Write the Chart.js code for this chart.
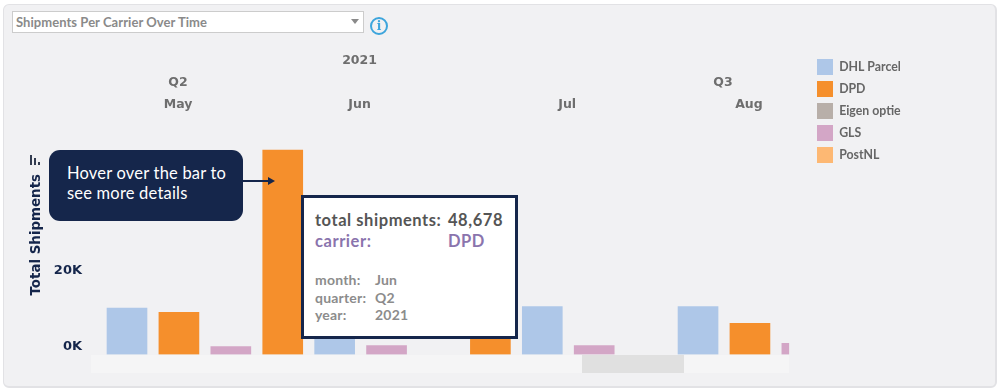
<!DOCTYPE html>
<html><head><meta charset="utf-8">
<script src="https://cdn.jsdelivr.net/npm/chart.js@4"></script>
<style>
html,body{margin:0;padding:0;background:#fff;width:1000px;height:392px;overflow:hidden}
#panel{position:absolute;left:3px;top:4px;width:991px;height:381px;background:#f1f1f3;border:1px solid #e2e2e5;border-bottom-width:2px;border-right-width:2px;border-radius:6px;box-sizing:content-box}
canvas{position:absolute;left:0;top:0}
.abs{position:absolute;white-space:nowrap;font-family:Lato,sans-serif}
#select{left:12px;top:11px;width:350px;height:20px;background:#fff;border:1px solid #ccc;color:#8a8a8a;font-weight:700;font-size:13px;line-height:20px;text-indent:3px;letter-spacing:.05px}
#caret{left:351px;top:19px;width:0;height:0;border-left:4px solid transparent;border-right:4px solid transparent;border-top:5px solid #8a8a8a}
#info{left:370px;top:17px;width:14px;height:14px;border:2px solid #3da5dc;border-radius:50%;color:#3da5dc;font:700 12px/14px "DejaVu Serif",serif;text-align:center}
#track{left:91px;top:355px;width:698px;height:18px;background:#f5f5f6}
#thumb{left:582px;top:355px;width:102px;height:18px;background:#e0e0e0}
#sorter i{position:absolute;background:#333c50;width:2px}
#callout{left:49px;top:150px;width:194px;height:71px;background:#15264b;border-radius:11px;color:#fff;font-size:16.5px;line-height:20px;padding:13px 0 0 18px;box-sizing:border-box;white-space:normal;letter-spacing:.2px}
#line{left:243px;top:180px;width:28px;height:2px;background:#15264b}
#head{left:268px;top:177px;width:0;height:0;border-top:4px solid transparent;border-bottom:4px solid transparent;border-left:7px solid #15264b}
#tip{left:301px;top:195px;width:217px;height:144px;background:#fff;border:3px solid #15264b;box-sizing:border-box}
#tip div{position:absolute;white-space:nowrap;font-family:Lato,sans-serif;font-weight:700}
.big{font-size:16.5px;line-height:20px;letter-spacing:.55px}.small{font-size:14px;line-height:18px;color:#8c8c8c;letter-spacing:.2px}
</style></head>
<body>
<div id="panel"></div>
<canvas id="c" width="1000" height="392"></canvas>
<div class="abs" id="select">Shipments Per Carrier Over Time</div>
<div class="abs" id="caret"></div>
<div class="abs" id="info">i</div>
<div class="abs" id="track"></div>
<div class="abs" id="thumb"></div>
<div class="abs" id="sorter" style="left:29px;top:155px;width:12px;height:10px"><i style="left:1px;top:0;height:10px"></i><i style="left:5px;top:3px;height:7px"></i><i style="left:9px;top:7px;height:3px"></i></div>
<div class="abs" id="callout">Hover over the bar to see more details</div>
<div class="abs" id="line"></div>
<div class="abs" id="head"></div>
<div class="abs" id="tip">
 <div class="big" style="left:11px;top:12px;color:#555">total shipments:</div>
 <div class="big" style="left:144px;top:12px;color:#555">48,678</div>
 <div class="big" style="left:11px;top:33px;color:#8a74ad">carrier:</div>
 <div class="big" style="left:144px;top:33px;color:#8a74ad">DPD</div>
 <div class="small" style="left:11px;top:73px">month:</div><div class="small" style="left:71px;top:73px">Jun</div>
 <div class="small" style="left:11px;top:91px">quarter:</div><div class="small" style="left:71px;top:91px">Q2</div>
 <div class="small" style="left:11px;top:108px">year:</div><div class="small" style="left:71px;top:108px">2021</div>
</div>
<script>
// One slot per bar position along the scrolling x axis
const slots = [0,1,2,3,4,5,6,7,8,9,10,11,12,13];
const dhlParcel  = [11070,null,null,null,11000,null,null,null,11380,null,null,11380,null,null];
const dpd        = [null,10045,null,48678,null,null,null,10000,null,null,null,null,7430,null];
const eigenOptie = [null,null,null,null,null,null,null,null,null,null,null,null,null,null];
const gls        = [null,null,1860,null,null,2095,null,null,null,2095,null,null,null,2665];
const postNL     = [null,null,null,null,null,null,null,null,null,null,null,null,null,null];

const monthLabels = ['May','Jun','Jul','Aug'];
const monthSlots  = [0.983,4.48,8.48,11.98];
const quarterLabels = ['Q2','Q3'];
const quarterSlots  = [0.983,11.48];
const yearLabels = ['2021'];
const yearSlots  = [4.48];
const yTicks = [0,20000];

const toPoints = vals => slots.map((s,i)=>({x:s,y:vals[i]}));
const X_MIN=-0.6936, X_MAX=12.755;
const headerFont={family:'"DejaVu Sans"',size:12.5,weight:'bold'};
function headerAxis(labels,positions,weight){
  return {type:'linear',position:'top',min:X_MIN,max:X_MAX,weight,offset:false,bounds:'data',
    grid:{display:false,drawTicks:false},border:{display:false},
    afterBuildTicks:s=>{s.ticks=positions.map(v=>({value:v}));},
    afterTickToLabelConversion:s=>{s.ticks.forEach((t,i)=>{t.label=labels[i];});},
    afterFit:s=>{s.height=22;},
    ticks:{autoSkip:false,maxRotation:0,minRotation:0,color:'#6e6e6e',font:headerFont,padding:3}};
}
new Chart(document.getElementById('c'),{
  type:'bar',
  data:{datasets:[
    {label:'DHL Parcel',data:toPoints(dhlParcel),backgroundColor:'#aec7e8'},
    {label:'DPD',data:toPoints(dpd),backgroundColor:'#f58f2c'},
    {label:'Eigen optie',data:toPoints(eigenOptie),backgroundColor:'#b8afa9'},
    {label:'GLS',data:toPoints(gls),backgroundColor:'#d3a6c6'},
    {label:'PostNL',data:toPoints(postNL),backgroundColor:'#fdb873'}
  ]},
  options:{
    responsive:false,animation:false,
    layout:{padding:{left:28,top:49,bottom:37.5,right:111}},
    datasets:{bar:{grouped:false,barThickness:40}},
    scales:{
      x:{type:'linear',min:X_MIN,max:X_MAX,display:false,offset:false,bounds:'data'},
      xMonth:headerAxis(monthLabels,monthSlots,0),
      xQuarter:headerAxis(quarterLabels,quarterSlots,1),
      xYear:headerAxis(yearLabels,yearSlots,2),
      y:{min:0,max:57000,
        grid:{display:false,drawTicks:false},border:{display:false},
        afterBuildTicks:s=>{s.ticks=yTicks.map(v=>({value:v}));},
        afterFit:s=>{s.width=63;},
        title:{display:true,text:'Total Shipments',color:'#15264b',font:{family:'"DejaVu Sans"',size:13.4,weight:'bold'},padding:0},
        ticks:{color:'#15264b',padding:9,font:{family:'"DejaVu Sans"',size:13,weight:'bold'},
          callback:v=>v===0?['0K','']:(v/1000)+'K'}}
    },
    plugins:{
      tooltip:{enabled:false},
      legend:{position:'right',align:'start',
        labels:{boxWidth:16,boxHeight:16,padding:6,color:'#666',font:{family:'Lato',size:12.3,weight:'bold'}}}
    }
  },
  plugins:[{id:'legendPlace',afterLayout(chart){const l=chart.legend;const w=l.width;l.left=811;l.right=811+w;l.top=53;}}]
});
</script>
</body></html>
